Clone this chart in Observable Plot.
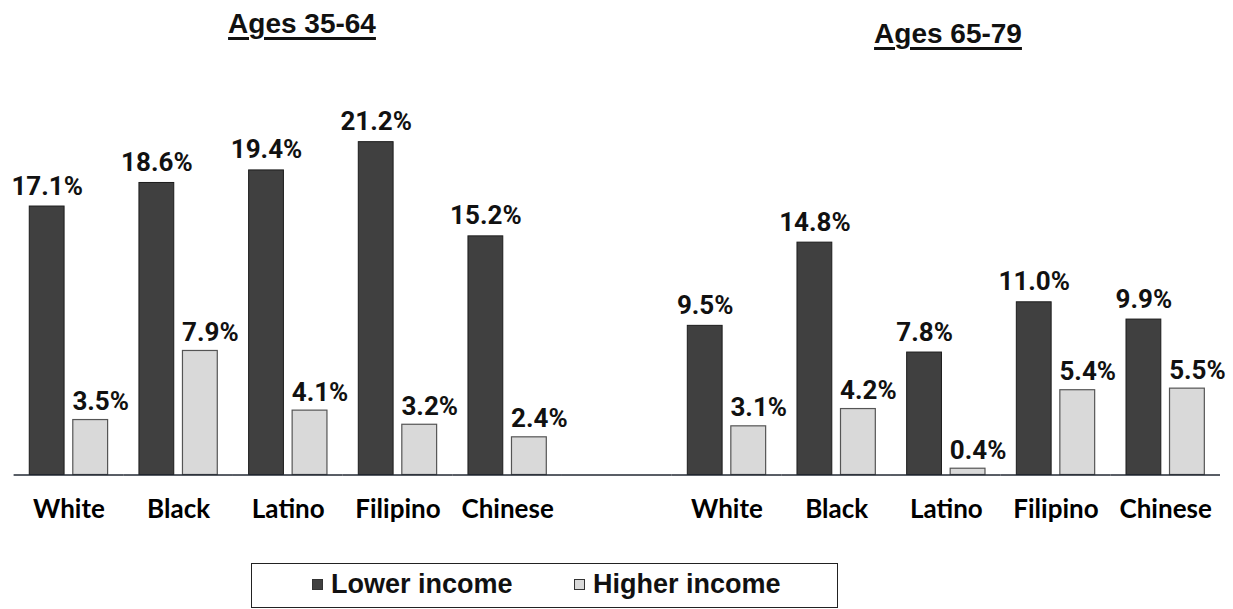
<!DOCTYPE html>
<html>
<head>
<meta charset="utf-8">
<script src="https://cdn.jsdelivr.net/npm/d3@7"></script>
<script src="https://cdn.jsdelivr.net/npm/@observablehq/plot@0.6"></script>
<style>
  html, body { margin: 0; padding: 0; background: #fff; }
  body { width: 1233px; height: 609px; overflow: hidden; position: relative; font-family: "Liberation Sans", Arial, sans-serif; }
  #chart { position: absolute; left: 0; top: 0; }
  .title { position: absolute; font-weight: bold; font-size: 28px; line-height: 1; color: #111;
           text-decoration: underline; text-decoration-thickness: 2.5px; text-underline-offset: 4px;
           white-space: nowrap; transform: translateX(-50%); }
  #legend { position: absolute; left: 251px; top: 563px; width: 587px; height: 45px; box-sizing: border-box;
            border: 1.5px solid #222; }
  .item { position: absolute; display: flex; align-items: center; font-weight: bold; font-size: 27px; color: #111; white-space: nowrap; }
  .sw { width: 9px; height: 9px; border: 1px solid #333; margin-right: 8px; }
</style>
</head>
<body>
<div id="chart"></div>
<div id="titles"></div>
<div id="legend"></div>
<script>
// ---- data ----
const categories = ["White", "Black", "Latino", "Filipino", "Chinese"];
const ageGroups = ["Ages 35-64", "Ages 65-79"];
const incomes = ["Lower income", "Higher income"];
const lowerIncome3564 = [17.1, 18.6, 19.4, 21.2, 15.2];
const higherIncome3564 = [3.5, 7.9, 4.1, 3.2, 2.4];
const lowerIncome6579 = [9.5, 14.8, 7.8, 11.0, 9.9];
const higherIncome6579 = [3.1, 4.2, 0.4, 5.4, 5.5];
const barColors = ["#404040", "#d9d9d9"];

// ---- build table ----
const slotKey = (age, c) => age + "|" + c;
const slots = [
  ...categories.map(c => slotKey(ageGroups[0], c)),
  "gap",
  ...categories.map(c => slotKey(ageGroups[1], c))
];
const rows = [];
categories.forEach((c, i) => {
  rows.push({slot: slotKey(ageGroups[0], c), income: incomes[0], value: lowerIncome3564[i]});
  rows.push({slot: slotKey(ageGroups[0], c), income: incomes[1], value: higherIncome3564[i]});
  rows.push({slot: slotKey(ageGroups[1], c), income: incomes[0], value: lowerIncome6579[i]});
  rows.push({slot: slotKey(ageGroups[1], c), income: incomes[1], value: higherIncome6579[i]});
});
const lowerRows = rows.filter(d => d.income === incomes[0]);
const higherRows = rows.filter(d => d.income === incomes[1]);
const fmt = d => d.value.toFixed(1) + "%";
const labelFont = {fontFamily: "Roboto", fontSize: 26, fontWeight: "bold", fill: "#111"};

const chart = Plot.plot({
  width: 1233,
  height: 545,
  marginTop: 97.7,
  marginBottom: 70.5,
  marginLeft: 13.6,
  marginRight: 13,
  style: {fontFamily: "Lato", fontSize: "26px", fontWeight: "bold", color: "#000", background: "#fff", overflow: "visible"},
  fx: {domain: slots, padding: 0, round: false, label: null, axis: "bottom", tickSize: 0, tickPadding: 25,
       tickFormat: s => s === "gap" ? "" : s.split("|")[1]},
  x: {domain: incomes, paddingInner: 0.2, paddingOuter: 0.36, round: false, axis: null},
  y: {domain: [0, 24], axis: null},
  marks: [
    Plot.barY(lowerRows, {fx: "slot", x: "income", y: "value", fill: barColors[0], stroke: "#1c1c1c", strokeWidth: 1}),
    Plot.barY(higherRows, {fx: "slot", x: "income", y: "value", fill: barColors[1], stroke: "#555", strokeWidth: 1.2}),
    Plot.ruleY(slots, {fx: d => d, y: () => 0, stroke: "#222833", strokeWidth: 1.6}),
    Plot.text(lowerRows, {fx: "slot", x: "income", y: "value", text: fmt, lineAnchor: "bottom", dy: -12, ...labelFont}),
    Plot.text(higherRows, {fx: "slot", x: "income", y: "value", text: fmt, lineAnchor: "bottom", dy: -10, dx: 10, ...labelFont})
  ]
});
document.getElementById("chart").appendChild(chart);

// ---- panel titles ----
const titlePos = [{x: 302, top: 10}, {x: 948, top: 20}];
const titles = document.getElementById("titles");
ageGroups.forEach((t, i) => {
  const d = document.createElement("div");
  d.className = "title";
  d.textContent = t;
  d.style.left = titlePos[i].x + "px";
  d.style.top = titlePos[i].top + "px";
  titles.appendChild(d);
});

// ---- legend ----
const legend = document.getElementById("legend");
const legendX = [60, 322];
incomes.forEach((name, i) => {
  const it = document.createElement("div");
  it.className = "item";
  it.style.left = legendX[i] + "px";
  it.style.top = "5px";
  const sw = document.createElement("span");
  sw.className = "sw";
  sw.style.background = barColors[i];
  const tx = document.createElement("span");
  tx.textContent = name;
  it.appendChild(sw);
  it.appendChild(tx);
  legend.appendChild(it);
});
</script>
</body>
</html>
